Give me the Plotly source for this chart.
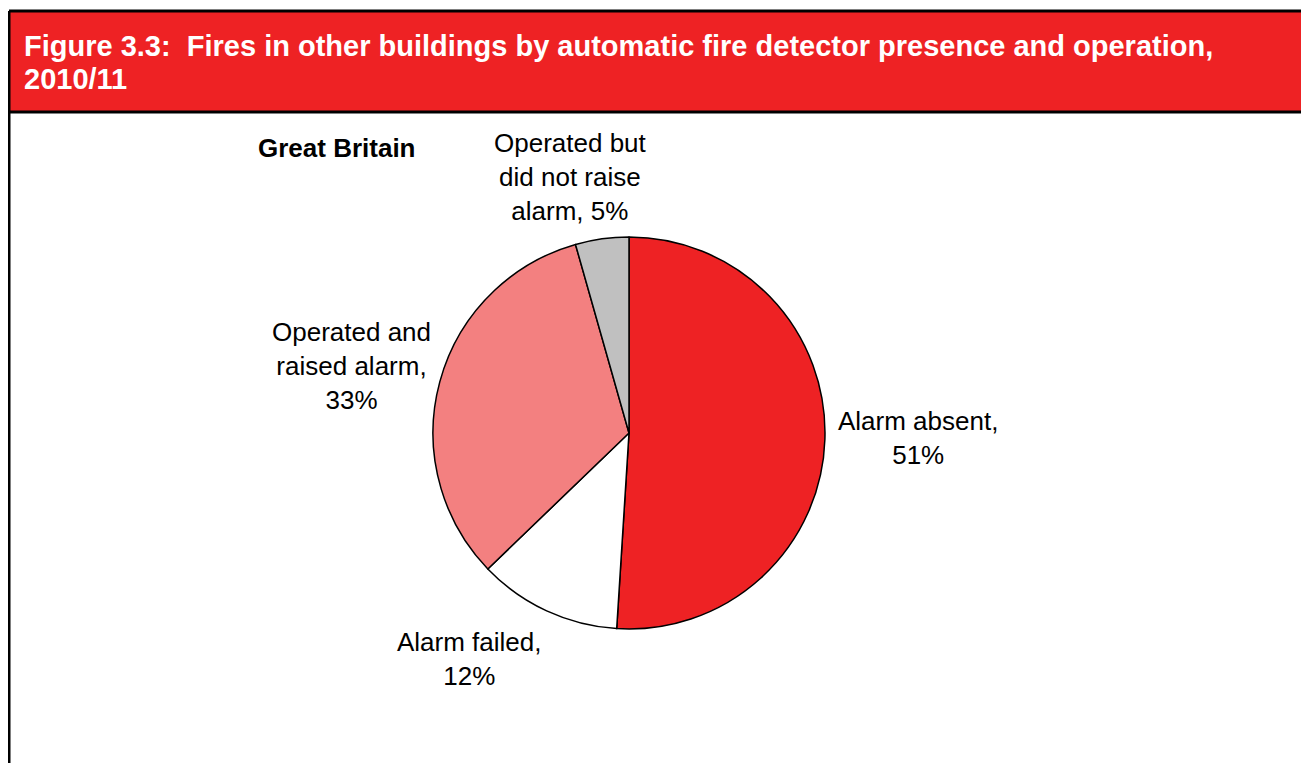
import plotly.graph_objects as go

# Data
categories = ["Alarm absent", "Alarm failed", "Operated and raised alarm", "Operated but did not raise alarm"]
values = [51.0, 11.8, 32.8, 4.4]
label_pct = [51, 12, 33, 5]
label_text = ["Alarm absent,<br>51%", "Alarm failed,<br>12%", "Operated and<br>raised alarm,<br>33%",
              "Operated but<br>did not raise<br>alarm, 5%"]
colors = ["#EE2224", "#FFFFFF", "#F38080", "#C0C0C0"]
title_lines = ["Figure 3.3:  Fires in other buildings by automatic fire detector presence and operation,",
               "2010/11"]
subtitle = "Great Britain"

OFF = 8  # default page body margin
W, H = 1309 - OFF, 763 - OFF
def px(x):
    return (x - OFF) / W
def py(y):
    return 1 - (y - OFF) / H

cx, cy, r = 629, 433, 196
FONT = "Liberation Sans, Arial"

fig = go.Figure()
fig.add_trace(go.Pie(
    labels=categories, values=values, sort=False, direction="clockwise", rotation=0,
    marker=dict(colors=colors, line=dict(color="#000000", width=1.5)),
    textinfo="none", hoverinfo="label+percent", showlegend=False,
    domain=dict(x=[px(cx - r), px(cx + r)], y=[py(cy + r), py(cy - r)]),
))

label_pos = [(918, 438), (470, 659), (352, 366), (570, 177)]
annotations = []
for txt, (x, y) in zip(label_text, label_pos):
    annotations.append(dict(x=px(x), y=py(y), xref="paper", yref="paper", text=txt,
                            showarrow=False, xanchor="center", yanchor="middle", align="center",
                            font=dict(family=FONT, size=26, color="#000000")))
annotations.append(dict(x=px(256), y=py(148), xref="paper", yref="paper", text="<b>" + subtitle + "</b>",
                        showarrow=False, xanchor="left", yanchor="middle",
                        font=dict(family=FONT, size=26, color="#000000")))
for line, yy in zip(title_lines, [46, 79]):
    annotations.append(dict(x=px(22), y=py(yy), xref="paper", yref="paper",
                            text="<b>" + line + "</b>",
                            showarrow=False, xanchor="left", yanchor="middle", align="left",
                            font=dict(family=FONT, size=29, color="#FFFFFF")))

shapes = [
    dict(type="rect", xref="paper", yref="paper", x0=px(9), x1=px(1320), y0=py(112), y1=py(11),
         fillcolor="#EE2224", line=dict(width=0), layer="below"),
    dict(type="line", xref="paper", yref="paper", x0=px(9), x1=px(1320), y0=py(11), y1=py(11),
         line=dict(color="#000000", width=3)),
    dict(type="line", xref="paper", yref="paper", x0=px(9), x1=px(1320), y0=py(112), y1=py(112),
         line=dict(color="#000000", width=3)),
    dict(type="line", xref="paper", yref="paper", x0=px(9), x1=px(9), y0=py(11), y1=py(780),
         line=dict(color="#000000", width=3)),
]

fig.update_layout(width=W, height=H, margin=dict(l=0, r=0, t=0, b=0),
                  paper_bgcolor="#FFFFFF", plot_bgcolor="#FFFFFF",
                  annotations=annotations, shapes=shapes)
fig.write_html("out.html")
